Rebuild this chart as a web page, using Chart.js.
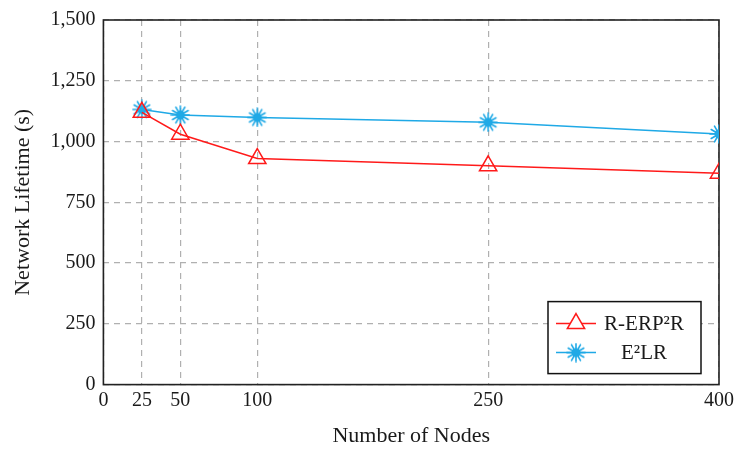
<!DOCTYPE html>
<html>
<head>
<meta charset="utf-8">
<script src="https://cdn.jsdelivr.net/npm/chart.js@4/dist/chart.umd.min.js"></script>
<style>
  html, body { margin: 0; padding: 0; background: #fff; }
  #wrap { width: 738px; height: 449px; position: relative; }
</style>
</head>
<body>
<div id="wrap"><canvas id="lifetimeChart"></canvas></div>
<script>
// Number of nodes (x) and network lifetime in seconds (y)
const nodeCounts = [25, 50, 100, 250, 400];
const rerp2rLifetime = [1120, 1030, 930, 900, 870];
const e2lrLifetime = [1132, 1109, 1099, 1079, 1031];
const xTickValues = [0, 25, 50, 100, 250, 400];
const yTickValues = [0, 250, 500, 750, 1000, 1250, 1500];
const seriesNames = ['R-ERP\u00B2R', 'E\u00B2LR'];

const RED = '#ff1a1a';
const BLUE = '#1fa9e6';
const FONT = "'Liberation Serif', 'DejaVu Serif', serif";

// asterisk marker: many spokes round a filled centre
function makeStar(color) {
    const c = document.createElement('canvas');
    c.width = 20; c.height = 20;
    const g = c.getContext('2d');
    g.strokeStyle = color;
    g.lineWidth = 1.6;
    g.lineCap = 'round';
    for (let k = 0; k < 12; k++) {
        const ang = k * Math.PI / 6;
        g.beginPath();
        g.moveTo(10, 10);
        g.lineTo(10 + 9 * Math.cos(ang), 10 + 9 * Math.sin(ang));
        g.stroke();
    }
    g.fillStyle = color;
    g.beginPath();
    g.arc(10, 10, 4.5, 0, Math.PI * 2);
    g.fill();
    return c;
}
const starMarker = makeStar(BLUE);

// Frame around the plot area
const framePlugin = {
    id: 'frame',
    beforeDatasetsDraw(chart) {
        const {ctx, chartArea: a} = chart;
        ctx.save();
        ctx.strokeStyle = '#222';
        ctx.lineWidth = 1.6;
        ctx.strokeRect(a.left, a.top, a.right - a.left, a.bottom - a.top);
        ctx.restore();
    }
};

// Boxed legend in the lower right corner of the plot
const boxLegendPlugin = {
    id: 'boxLegend',
    afterDraw(chart) {
        const {ctx, chartArea: a} = chart;
        const w = 153, h = 72;
        const x = a.right - 18 - w, y = a.bottom - 11 - h;
        ctx.save();
        ctx.fillStyle = '#fff';
        ctx.fillRect(x, y, w, h);
        ctx.strokeStyle = '#111';
        ctx.lineWidth = 1.5;
        ctx.strokeRect(x, y, w, h);
        chart.data.datasets.forEach((ds, i) => {
            const cy = y + 22 + i * 29;
            ctx.strokeStyle = ds.borderColor;
            ctx.lineWidth = 1.5;
            ctx.beginPath();
            ctx.moveTo(x + 8, cy);
            ctx.lineTo(x + 48, cy);
            ctx.stroke();
            Chart.helpers.drawPoint(ctx, {
                pointStyle: ds.pointStyle,
                radius: ds.pointRadius,
                rotation: 0,
                borderWidth: ds.pointBorderWidth
            }, x + 28, cy);
            ctx.fillStyle = '#1a1a1a';
            ctx.font = '21px ' + FONT;
            ctx.textAlign = 'center';
            ctx.textBaseline = 'middle';
            ctx.fillText(ds.label, x + 96, cy + 1);
        });
        ctx.restore();
    }
};

new Chart(document.getElementById('lifetimeChart'), {
    type: 'line',
    data: {
        labels: nodeCounts,
        datasets: [
            {
                label: seriesNames[0],
                data: nodeCounts.map((n, i) => ({x: n, y: rerp2rLifetime[i]})),
                borderColor: RED,
                backgroundColor: 'rgba(255,255,255,0)',
                borderWidth: 1.5,
                pointStyle: 'triangle',
                pointRadius: 10,
                pointBorderWidth: 1.5,
                pointBorderColor: RED,
                pointBackgroundColor: 'rgba(255,255,255,0)',
                tension: 0
            },
            {
                label: seriesNames[1],
                data: nodeCounts.map((n, i) => ({x: n, y: e2lrLifetime[i]})),
                borderColor: BLUE,
                backgroundColor: BLUE,
                borderWidth: 1.5,
                pointStyle: starMarker,
                pointRadius: 9,
                pointBorderWidth: 2,
                pointBorderColor: BLUE,
                pointBackgroundColor: BLUE,
                tension: 0
            }
        ]
    },
    options: {
        responsive: true,
        maintainAspectRatio: false,
        animation: false,
        layout: { padding: { top: 15, right: 3, bottom: 0, left: 10 } },
        plugins: {
            legend: { display: false },
            tooltip: { enabled: false }
        },
        scales: {
            x: {
                type: 'linear',
                min: 0,
                max: 400,
                afterBuildTicks: axis => { axis.ticks = xTickValues.map(v => ({value: v})); },
                grid: { color: '#b0b0b0', lineWidth: 1.2, drawTicks: false },
                border: { display: false, dash: [6, 5] },
                ticks: { color: '#1a1a1a', font: { family: FONT, size: 20 }, padding: 4, maxRotation: 0 },
                title: {
                    display: true,
                    text: 'Number of Nodes',
                    color: '#1a1a1a',
                    font: { family: FONT, size: 22 },
                    padding: { top: 6, bottom: 0 }
                }
            },
            y: {
                min: 0,
                max: 1500,
                afterBuildTicks: axis => { axis.ticks = yTickValues.map(v => ({value: v})); },
                grid: { color: '#b0b0b0', lineWidth: 1.2, drawTicks: false },
                border: { display: false, dash: [6, 5] },
                ticks: {
                    color: '#1a1a1a',
                    font: { family: FONT, size: 20 },
                    padding: 8,
                    callback: v => v.toLocaleString('en-US')
                },
                title: {
                    display: true,
                    text: 'Network Lifetime (s)',
                    color: '#1a1a1a',
                    font: { family: FONT, size: 22 },
                    padding: { top: 0, bottom: 6 }
                }
            }
        }
    },
    plugins: [framePlugin, boxLegendPlugin]
});
</script>
</body>
</html>
